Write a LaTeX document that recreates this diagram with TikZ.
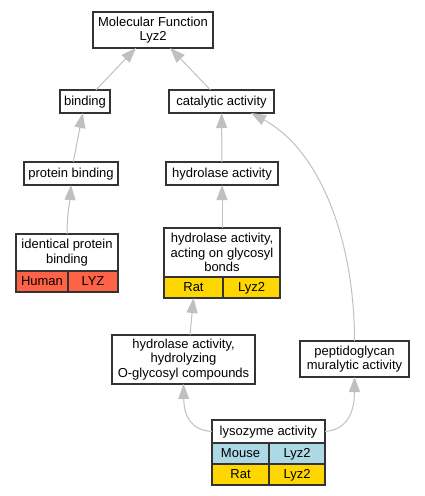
\documentclass[tikz,border=0pt]{standalone}
\usepackage{fontspec}
\setmainfont{Liberation Sans}
\usetikzlibrary{arrows.meta}
\definecolor{edgegray}{HTML}{C0C0C0}
\definecolor{humanred}{HTML}{FF6347}
\definecolor{ratgold}{HTML}{FFD700}
\definecolor{mouseblue}{HTML}{ADD8E6}
\tikzset{
  box/.style={draw=black!80, line width=1.3pt, fill=white, inner sep=0pt, outer sep=0pt,
    align=center, font=\fontsize{13}{14.5}\selectfont, rectangle},
  onebox/.style={box, text height=9.6pt, text depth=2.6pt},
  cell/.style={onebox, minimum height=21pt},
  edge/.style={draw=edgegray, line width=1pt, -{Triangle[length=15pt,width=11pt]}},
}
\begin{document}
\begin{tikzpicture}[x=1pt,y=-1pt]
\useasboundingbox (0,0) rectangle (425,496);
% nodes
\node[box, minimum width=120pt, minimum height=36pt] (mf) at (153,30) {Molecular Function\\Lyz2};
\node[onebox, minimum width=50pt, minimum height=23pt] (bind) at (85,101.5) {binding};
\node[onebox, minimum width=105pt, minimum height=23pt] (cat) at (221.5,101.5) {catalytic activity};
\node[onebox, minimum width=94pt, minimum height=23pt] (pb) at (71,173.5) {protein binding};
\node[onebox, minimum width=112pt, minimum height=23pt] (hyd) at (222,173.5) {hydrolase activity};
% identical protein binding
\node[box, minimum width=102pt, minimum height=37pt] (ident) at (67,252.5) {identical protein\\binding};
\node[cell, fill=humanred, minimum width=52pt] (identhuman) at (42,281.5) {Human};
\node[cell, fill=humanred, minimum width=50pt] (identlyz) at (93,281.5) {LYZ};
% hydrolase acting on glycosyl bonds
\node[box, minimum width=116pt, minimum height=49pt] (glyc) at (222,252.5) {hydrolase activity,\\acting on glycosyl\\bonds};
\node[cell, fill=ratgold, minimum width=59pt] (glycrat) at (193.5,287.5) {Rat};
\node[cell, fill=ratgold, minimum width=57pt] (glyclyz) at (251.5,287.5) {Lyz2};
% hydrolyzing O-glycosyl
\node[box, minimum width=143pt, minimum height=49pt] (oglyc) at (183.5,359.5) {hydrolase activity,\\hydrolyzing\\O-glycosyl compounds};
% peptidoglycan
\node[box, minimum width=109pt, minimum height=36pt] (pep) at (354.5,359) {peptidoglycan\\muralytic activity};
% lysozyme
\node[onebox, minimum width=113pt, minimum height=23pt] (lyso) at (268.5,431.5) {lysozyme activity};
\node[cell, fill=mouseblue, minimum width=57pt] (lysomouse) at (240.5,453.5) {Mouse};
\node[cell, fill=mouseblue, minimum width=56pt] (lysomlyz) at (297,453.5) {Lyz2};
\node[cell, fill=ratgold, minimum width=57pt] (lysorat) at (240.5,474.5) {Rat};
\node[cell, fill=ratgold, minimum width=56pt] (lysorlyz) at (297,474.5) {Lyz2};
% edges
\draw[edge] (bind) -- (mf);
\draw[edge] (cat) -- (mf);
\draw[edge] (pb) -- (bind);
\draw[edge] (hyd) -- (cat);
\draw[edge] (ident.north) .. controls (67,215) and (70,200) .. (pb.south);
\draw[edge] (glyc.north) -- (hyd.south);
\draw[edge] ([xshift=6.5pt]oglyc.north) -- (glycrat.south);
\draw[edge] (pep.north) .. controls (354.5,240) and (320,150) .. ([xshift=-23pt]cat.south east);
\draw[edge] (lyso.west) .. controls (190,430) and (184,415) .. (oglyc.south);
\draw[edge] (lyso.east) .. controls (345,430) and (354.5,415) .. (pep.south);
\end{tikzpicture}
\end{document}
